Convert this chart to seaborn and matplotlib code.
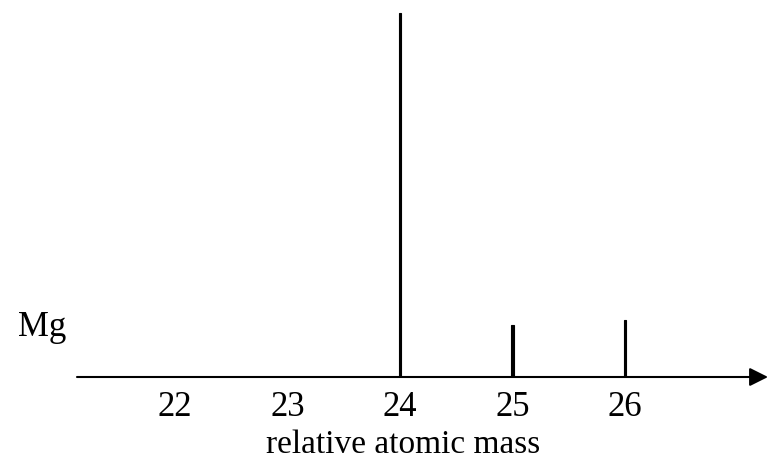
import matplotlib
matplotlib.use('Agg')
import matplotlib.pyplot as plt
import pandas as pd
import seaborn as sns

# mass spectrum of magnesium
mass = [24, 25, 26]
abundance = [100, 14.3, 15.7]
tick_values = [22, 23, 24, 25, 26]
tick_labels = ['22', '23', '24', '25', '26']

sns.set_style('white')
plt.rcParams['font.family'] = ['Liberation Serif', 'DejaVu Serif']
plt.rcParams['text.color'] = 'black'
plt.rcParams['xtick.color'] = 'black'
plt.rcParams['axes.labelcolor'] = 'black'

df = pd.DataFrame({'mass': mass, 'abundance': abundance})

fig = plt.figure(figsize=(7.68, 4.69), dpi=100)
ax = fig.add_axes([77 / 768, 92 / 469, 1 - 77 / 768, 1 - 92 / 469])

sns.barplot(data=df, x='mass', y='abundance', native_scale=True,
            width=0.024, color='black', edgecolor='black', linewidth=0.8,
            saturation=1, ax=ax)

ax.set_xlim(21.13, 27.27)
ax.set_ylim(0, 100 * 377 / 364)
for s in ax.spines.values():
    s.set_visible(False)
ax.set_yticks([])
ax.set_ylabel('')
ax.set_xticks(tick_values)
ax.set_xticklabels(tick_labels, fontsize=25)
ax.tick_params(axis='x', length=0, pad=10)
ax.set_xlabel('relative atomic mass', fontsize=24)
ax.xaxis.set_label_coords((403 - 77) / 691, -52 / 377)

# x axis with arrow head
ax.annotate('', xy=(27.27, 0), xytext=(21.13, 0), xycoords='data',
            arrowprops=dict(arrowstyle='-|>', lw=1.5, color='black',
                            mutation_scale=28, shrinkA=0, shrinkB=0),
            annotation_clip=False)

fig.text(18 / 768, 141 / 469, 'Mg', fontsize=25, ha='left', va='center')

fig.savefig('out.png', dpi=100)
